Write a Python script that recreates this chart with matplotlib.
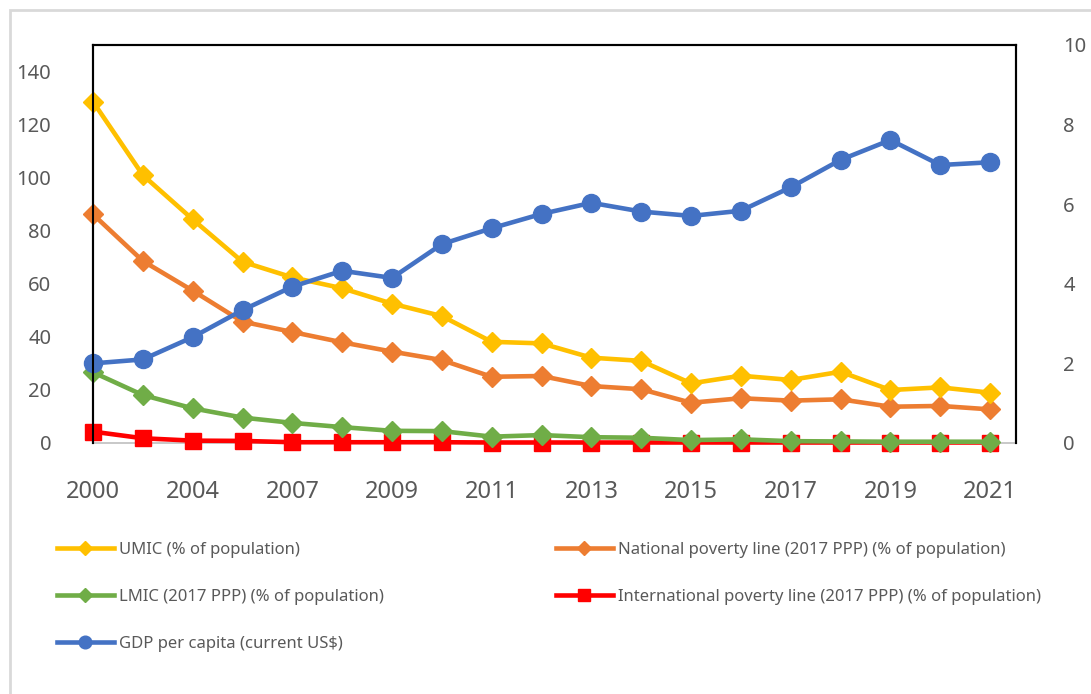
import numpy as np
import matplotlib
matplotlib.use("Agg")
import matplotlib.pyplot as plt
from matplotlib.patches import Rectangle

# data
years = ["2000", "2002", "2004", "2006", "2007", "2008", "2009", "2010", "2011", "2012",
         "2013", "2014", "2015", "2016", "2017", "2018", "2019", "2020", "2021"]
umic = [128.6, 100.9, 84.2, 68.2, 62.3, 58.2, 52.4, 47.7, 38.0, 37.4,
        32.0, 30.8, 22.3, 25.2, 23.6, 26.7, 19.8, 20.8, 18.8]
national = [86.1, 68.5, 57.3, 45.6, 41.7, 37.8, 34.3, 31.1, 24.8, 25.1,
            21.3, 20.1, 15.0, 16.7, 15.8, 16.3, 13.5, 13.8, 12.5]
lmic = [26.5, 17.9, 12.9, 9.4, 7.4, 5.8, 4.4, 4.3, 2.2, 2.8,
        2.0, 1.8, 0.9, 1.2, 0.5, 0.4, 0.3, 0.3, 0.3]
intl = [4.1, 1.6, 0.7, 0.6, 0.1, 0.1, 0.1, 0.1, 0.0, 0.0,
        0.0, 0.0, 0.0, 0.0, 0.0, 0.0, 0.0, 0.0, 0.0]
gdp = [1.99, 2.09, 2.65, 3.33, 3.92, 4.32, 4.14, 4.99, 5.39, 5.75,
       6.03, 5.81, 5.70, 5.83, 6.42, 7.11, 7.61, 6.98, 7.05]

lbl_umic = "UMIC (% of population)"
lbl_nat = "National poverty line (2017 PPP) (% of population)"
lbl_lmic = "LMIC (2017 PPP) (% of population)"
lbl_intl = "International poverty line (2017 PPP) (% of population)"
lbl_gdp = "GDP per capita (current US$)"

plt.rcParams['font.family'] = ['Noto Sans', 'DejaVu Sans']
grey = "#595959"

fig = plt.figure(figsize=(10.91, 6.94), dpi=100)
# light outer frame
fig.patches.append(Rectangle((10/1091, -0.1), 1.2, 1.1 - 10/694,
                             transform=fig.transFigure, fill=False,
                             edgecolor="#D9D9D9", linewidth=2))
ax = fig.add_axes([93/1091, 1-442.5/694, (1016-93)/1091, (442.5-45)/694])
x = np.arange(len(years))

l_intl, = ax.plot(x, intl, color="#FF0000", lw=3.3, marker="s", ms=12, zorder=3)
l_lmic, = ax.plot(x, lmic, color="#70AD47", lw=3.3, marker="D", ms=10, zorder=4)
l_nat, = ax.plot(x, national, color="#ED7D31", lw=3.3, marker="D", ms=10, zorder=4)
l_umic, = ax.plot(x, umic, color="#FFC000", lw=3.3, marker="D", ms=10, zorder=4)
for l in (l_intl, l_lmic, l_nat, l_umic):
    l.set_clip_on(False)

ax2 = ax.twinx()
l_gdp, = ax2.plot(x, gdp, color="#4472C4", lw=3.3, marker="o", ms=13, clip_on=False)

ax.set_xlim(0, 18.52)
ax.set_ylim(0, 150)
ax2.set_ylim(0, 10)
ax.set_yticks(np.arange(0, 141, 20))
ax2.set_yticks(np.arange(0, 11, 2))
ax.set_xticks(x[::2])
ax.set_xticklabels(["2000", "2004", "2007", "2009", "2011", "2013", "2015", "2017", "2019", "2021"])

ax.tick_params(axis="x", length=0, pad=27, labelsize=17, labelcolor=grey)
ax.tick_params(axis="y", length=0, pad=30, labelsize=14.5, labelcolor=grey)
ax2.tick_params(axis="y", length=0, pad=34, labelsize=14.5, labelcolor=grey)

for a in (ax, ax2):
    for s in ("top", "left", "right"):
        a.spines[s].set_color("black")
        a.spines[s].set_linewidth(1.5)
    a.spines["bottom"].set_color("#BFBFBF")
    a.spines["bottom"].set_linewidth(1.2)
ax2.spines["bottom"].set_visible(False)

leg_kw = dict(frameon=False, fontsize=12, handlelength=3.4, handletextpad=0.3,
              labelspacing=1.85, borderpad=0, borderaxespad=0, labelcolor=grey,
              markerscale=0.7)
fig.legend([l_umic, l_lmic, l_gdp], [lbl_umic, lbl_lmic, lbl_gdp],
           loc="upper left", bbox_to_anchor=(57/1091, 1-542/694), **leg_kw)
fig.legend([l_nat, l_intl], [lbl_nat, lbl_intl],
           loc="upper left", bbox_to_anchor=(556/1091, 1-542/694), **leg_kw)

fig.savefig("out.png", dpi=100)
